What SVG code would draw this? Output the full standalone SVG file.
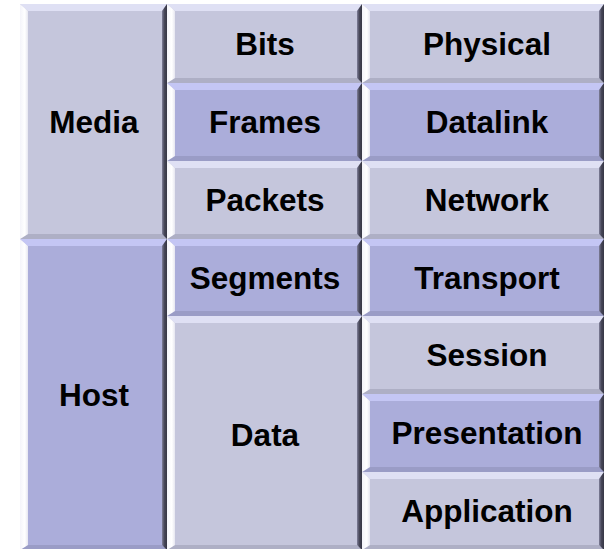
<svg xmlns="http://www.w3.org/2000/svg" width="604" height="549" viewBox="0 0 604 549">
  <defs>
    <linearGradient id="gLeft" x1="0" y1="0" x2="1" y2="0">
      <stop offset="0" stop-color="#f4f4fa"/>
      <stop offset="0.6" stop-color="#ffffff"/>
      <stop offset="1" stop-color="#e6e6f0"/>
    </linearGradient>
    <linearGradient id="gRight" x1="0" y1="0" x2="1" y2="0">
      <stop offset="0" stop-color="#80809a"/>
      <stop offset="0.45" stop-color="#48485a"/>
      <stop offset="1" stop-color="#363644"/>
    </linearGradient>
    <style>
      .face-l { fill: #c5c6dc; }
      .face-d { fill: #abadda; }
      .top-l { fill: #dfe0f4; }
      .top-d { fill: #c4c6f4; }
      .bot-l { fill: #aeafc5; }
      .bot-d { fill: #9a9cc6; }
      .left { fill: url(#gLeft); }
      .right { fill: url(#gRight); }
      text { font-family: "Liberation Sans", Arial, sans-serif; font-weight: bold; font-size: 31.5px; fill: #000; text-anchor: middle; }
    </style>
  </defs>
  <rect width="604" height="549" fill="#ffffff"/>

  <!-- left column -->
  <g id="media">
    <rect class="face-l" x="20" y="4" width="147" height="235"/>
    <polygon class="top-l" points="20,4 167,4 162,11 28,11"/>
    <polygon class="bot-l" points="20,239 167,239 162,234 28,234"/>
    <polygon class="left" points="20,4 28,11 28,234 20,239"/>
    <polygon class="right" points="167,4 167,239 162,234 162,11"/>
    <text x="94" y="133">Media</text>
  </g>
  <g id="host">
    <rect class="face-d" x="20" y="239" width="147" height="311"/>
    <polygon class="top-d" points="20,239 167,239 162,246 28,246"/>
    <polygon class="bot-d" points="20,550 167,550 162,545 28,545"/>
    <polygon class="left" points="20,239 28,246 28,545 20,550"/>
    <polygon class="right" points="167,239 167,550 162,545 162,246"/>
    <text x="94" y="406">Host</text>
  </g>

  <!-- middle column -->
  <g id="bits">
    <rect class="face-l" x="167" y="4" width="195" height="79"/>
    <polygon class="top-l" points="167,4 362,4 357,11 175,11"/>
    <polygon class="bot-l" points="167,83 362,83 357,78 175,78"/>
    <polygon class="left" points="167,4 175,11 175,78 167,83"/>
    <polygon class="right" points="362,4 362,83 357,78 357,11"/>
    <text x="265" y="55">Bits</text>
  </g>
  <g id="frames">
    <rect class="face-d" x="167" y="83" width="195" height="78"/>
    <polygon class="top-d" points="167,83 362,83 357,90 175,90"/>
    <polygon class="bot-d" points="167,161 362,161 357,156 175,156"/>
    <polygon class="left" points="167,83 175,90 175,156 167,161"/>
    <polygon class="right" points="362,83 362,161 357,156 357,90"/>
    <text x="265" y="133">Frames</text>
  </g>
  <g id="packets">
    <rect class="face-l" x="167" y="161" width="195" height="78"/>
    <polygon class="top-l" points="167,161 362,161 357,168 175,168"/>
    <polygon class="bot-l" points="167,239 362,239 357,234 175,234"/>
    <polygon class="left" points="167,161 175,168 175,234 167,239"/>
    <polygon class="right" points="362,161 362,239 357,234 357,168"/>
    <text x="265" y="211">Packets</text>
  </g>
  <g id="segments">
    <rect class="face-d" x="167" y="239" width="195" height="77"/>
    <polygon class="top-d" points="167,239 362,239 357,246 175,246"/>
    <polygon class="bot-d" points="167,316 362,316 357,311 175,311"/>
    <polygon class="left" points="167,239 175,246 175,311 167,316"/>
    <polygon class="right" points="362,239 362,316 357,311 357,246"/>
    <text x="265" y="289">Segments</text>
  </g>
  <g id="data">
    <rect class="face-l" x="167" y="316" width="195" height="234"/>
    <polygon class="top-l" points="167,316 362,316 357,323 175,323"/>
    <polygon class="bot-l" points="167,550 362,550 357,545 175,545"/>
    <polygon class="left" points="167,316 175,323 175,545 167,550"/>
    <polygon class="right" points="362,316 362,550 357,545 357,323"/>
    <text x="265" y="446">Data</text>
  </g>

  <!-- right column -->
  <g id="physical">
    <rect class="face-l" x="362" y="4" width="242" height="79"/>
    <polygon class="top-l" points="362,4 604,4 599,11 370,11"/>
    <polygon class="bot-l" points="362,83 604,83 599,78 370,78"/>
    <polygon class="left" points="362,4 370,11 370,78 362,83"/>
    <polygon class="right" points="604,4 604,83 599,78 599,11"/>
    <text x="487" y="55">Physical</text>
  </g>
  <g id="datalink">
    <rect class="face-d" x="362" y="83" width="242" height="78"/>
    <polygon class="top-d" points="362,83 604,83 599,90 370,90"/>
    <polygon class="bot-d" points="362,161 604,161 599,156 370,156"/>
    <polygon class="left" points="362,83 370,90 370,156 362,161"/>
    <polygon class="right" points="604,83 604,161 599,156 599,90"/>
    <text x="487" y="133">Datalink</text>
  </g>
  <g id="network">
    <rect class="face-l" x="362" y="161" width="242" height="78"/>
    <polygon class="top-l" points="362,161 604,161 599,168 370,168"/>
    <polygon class="bot-l" points="362,239 604,239 599,234 370,234"/>
    <polygon class="left" points="362,161 370,168 370,234 362,239"/>
    <polygon class="right" points="604,161 604,239 599,234 599,168"/>
    <text x="487" y="211">Network</text>
  </g>
  <g id="transport">
    <rect class="face-d" x="362" y="239" width="242" height="77"/>
    <polygon class="top-d" points="362,239 604,239 599,246 370,246"/>
    <polygon class="bot-d" points="362,316 604,316 599,311 370,311"/>
    <polygon class="left" points="362,239 370,246 370,311 362,316"/>
    <polygon class="right" points="604,239 604,316 599,311 599,246"/>
    <text x="487" y="289">Transport</text>
  </g>
  <g id="session">
    <rect class="face-l" x="362" y="316" width="242" height="78"/>
    <polygon class="top-l" points="362,316 604,316 599,323 370,323"/>
    <polygon class="bot-l" points="362,394 604,394 599,389 370,389"/>
    <polygon class="left" points="362,316 370,323 370,389 362,394"/>
    <polygon class="right" points="604,316 604,394 599,389 599,323"/>
    <text x="487" y="366">Session</text>
  </g>
  <g id="presentation">
    <rect class="face-d" x="362" y="394" width="242" height="78"/>
    <polygon class="top-d" points="362,394 604,394 599,401 370,401"/>
    <polygon class="bot-d" points="362,472 604,472 599,467 370,467"/>
    <polygon class="left" points="362,394 370,401 370,467 362,472"/>
    <polygon class="right" points="604,394 604,472 599,467 599,401"/>
    <text x="487" y="444">Presentation</text>
  </g>
  <g id="application">
    <rect class="face-l" x="362" y="472" width="242" height="78"/>
    <polygon class="top-l" points="362,472 604,472 599,479 370,479"/>
    <polygon class="bot-l" points="362,550 604,550 599,545 370,545"/>
    <polygon class="left" points="362,472 370,479 370,545 362,550"/>
    <polygon class="right" points="604,472 604,550 599,545 599,479"/>
    <text x="487" y="522">Application</text>
  </g>
</svg>
